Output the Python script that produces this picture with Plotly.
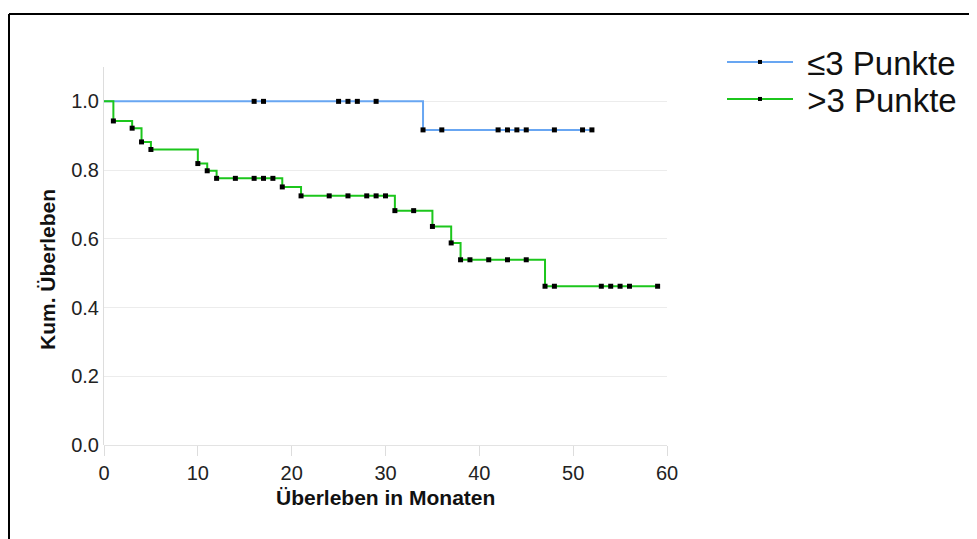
import plotly.graph_objects as go

# ---- data ----
series_names = ["≤3 Punkte", ">3 Punkte"]

low_event_times = [0, 34]
low_survival = [1.0, 0.917]
low_end_time = 52
low_censored = [16, 17, 25, 26, 27, 29, 36, 42, 43, 44, 45, 48, 51, 52]

high_event_times = [0, 1, 3, 4, 5, 10, 11, 12, 19, 21, 31, 35, 37, 38, 47]
high_survival = [1.0, 0.943, 0.922, 0.882, 0.860, 0.819, 0.798, 0.776, 0.751,
                 0.725, 0.682, 0.636, 0.588, 0.539, 0.462]
high_end_time = 59
high_censored = [14, 16, 17, 18, 24, 26, 28, 29, 30, 33, 39, 41, 43, 45,
                 48, 53, 54, 55, 56, 59]

x_ticks = [0, 10, 20, 30, 40, 50, 60]
y_ticks = [0.0, 0.2, 0.4, 0.6, 0.8, 1.0]

colors = ["#68a6f2", "#1cc61c"]

# page offset (browser body margin) and plot area, in figure pixels
OFF = 8
W, H = 969, 531
L, R, T, B = 96, 659, 59, 437


def surv_at(times, surv, t):
    s = surv[0]
    for ti, si in zip(times, surv):
        if ti <= t:
            s = si
    return s


def px(xr):
    # reference-page pixel -> paper x
    return (xr - OFF - L) / (R - L)


def py(yr):
    return (B - (yr - OFF)) / (B - T)


fig = go.Figure()

groups = [
    (low_event_times, low_survival, low_end_time, low_censored),
    (high_event_times, high_survival, high_end_time, high_censored),
]
legend_ids = ["legend", "legend2"]

for i, (et, sv, end, cens) in enumerate(groups):
    xs = list(et) + [end]
    ys = list(sv) + [sv[-1]]
    fig.add_trace(go.Scatter(
        x=xs, y=ys, mode="lines", line=dict(shape="hv", color=colors[i], width=2),
        showlegend=False, hoverinfo="skip"))
    mx = [t for t in et[1:]] + list(cens)
    my = [surv_at(et, sv, t) for t in mx]
    fig.add_trace(go.Scatter(
        x=mx, y=my, mode="markers",
        marker=dict(symbol="square", size=5, color="black"),
        showlegend=False, hoverinfo="skip"))
    # legend entry
    fig.add_trace(go.Scatter(
        x=[None], y=[None], mode="lines+markers",
        name="\u00a0" + series_names[i],
        legend=legend_ids[i],
        line=dict(color=colors[i], width=2),
        marker=dict(symbol="square", size=4, color="black")))

font_family = "Liberation Sans, Arial, sans-serif"

legend_common = dict(
    xanchor="left", yanchor="top",
    font=dict(size=33, color="#111111", family=font_family),
    bgcolor="rgba(0,0,0,0)", itemwidth=66,
)

fig.update_layout(
    width=W, height=H,
    margin=dict(l=L, r=W - R, t=T, b=H - B),
    paper_bgcolor="white", plot_bgcolor="white",
    font=dict(family=font_family, color="#222222"),
    showlegend=True,
    legend=dict(x=px(722), y=py(34), **legend_common),
    legend2=dict(x=px(722), y=py(71), **legend_common),
    xaxis=dict(
        range=[0, 60], tickvals=x_ticks, ticktext=[str(v) for v in x_ticks],
        showgrid=False, zeroline=False, showline=False,
        ticks="outside", ticklen=10, tickcolor="#dddddd", tickwidth=1,
        tickfont=dict(size=20, color="#222222"),
    ),
    yaxis=dict(
        range=[0, 1.1], tickvals=y_ticks, ticktext=[f"{v:.1f}" for v in y_ticks],
        showgrid=True, gridcolor="#ececec", gridwidth=1,
        zeroline=True, zerolinecolor="#e3e3e3", zerolinewidth=1,
        showline=True, linecolor="#dddddd", linewidth=1,
        ticks="", tickfont=dict(size=20, color="#222222"),
    ),
    annotations=[
        dict(text="<b>Kum. Überleben</b>", xref="paper", yref="paper",
             x=px(47), y=py(270), xanchor="center", yanchor="middle",
             textangle=-90, showarrow=False,
             font=dict(size=21, color="#111111")),
        dict(text="<b>Überleben in Monaten</b>", xref="paper", yref="paper",
             x=px(385), y=py(497), xanchor="center", yanchor="middle",
             showarrow=False,
             font=dict(size=21, color="#111111")),
    ],
    shapes=[
        dict(type="line", xref="paper", yref="paper",
             x0=px(9), x1=px(W + OFF + 4), y0=py(14), y1=py(14),
             line=dict(color="black", width=2)),
        dict(type="line", xref="paper", yref="paper",
             x0=px(9), x1=px(9), y0=py(14), y1=py(H + OFF + 4),
             line=dict(color="black", width=2)),
    ],
)

fig.write_html("out.html")
